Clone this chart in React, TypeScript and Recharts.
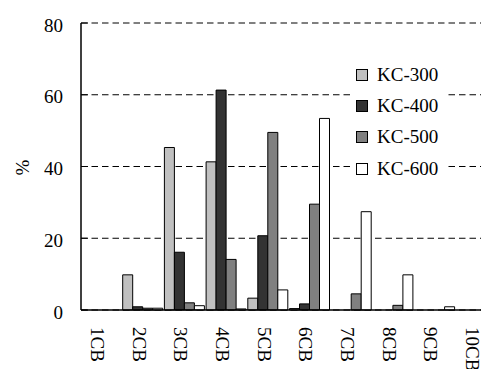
import React from 'react';
import { BarChart, Bar, XAxis, YAxis, CartesianGrid } from 'recharts';

const categories = ['1CB', '2CB', '3CB', '4CB', '5CB', '6CB', '7CB', '8CB', '9CB', '10CB'];
const kc300 = [0, 9.8, 45.3, 41.3, 3.3, 0.4, 0, 0, 0, 0];
const kc400 = [0, 0.9, 16.1, 61.3, 20.7, 1.7, 0, 0, 0, 0];
const kc500 = [0, 0.5, 2.0, 14.1, 49.5, 29.5, 4.5, 1.3, 0, 0];
const kc600 = [0, 0.5, 1.2, 0.3, 5.6, 53.4, 27.4, 9.8, 0.9, 0];
const yTicks = [0, 20, 40, 60, 80];

const seriesNames = ['KC-300', 'KC-400', 'KC-500', 'KC-600'];
const seriesKeys = ['kc300', 'kc400', 'kc500', 'kc600'];
const seriesColors = ['#c0c0c0', '#333333', '#808080', '#ffffff'];

const data = categories.map((c, i) => ({
  name: c,
  kc300: kc300[i],
  kc400: kc400[i],
  kc500: kc500[i],
  kc600: kc600[i],
}));

const FONT = '"Liberation Serif", "Times New Roman", serif';

const XTick = (props: any) => {
  const { x, y, payload } = props;
  return (
    <g transform={`translate(${x},${y + 9}) rotate(90)`}>
      <text x={0} y={0} dy={11} textAnchor="start" fontFamily={FONT} fontSize={19} fill="#000">
        {payload.value}
      </text>
    </g>
  );
};

const LegendBox = () => (
  <div
    style={{
      position: 'absolute',
      left: 342,
      top: 51,
      padding: '0 0 0 6px',
      width: 92,
      background: '#fff',
      fontFamily: FONT,
      fontSize: 19,
      color: '#000',
    }}
  >
    {seriesNames.map((n, i) => (
      <div key={n} style={{ display: 'flex', alignItems: 'center', height: 31.4 }}>
        <div
          style={{
            width: 10,
            height: 10,
            background: seriesColors[i],
            border: '1px solid #000',
            marginRight: 9,
            flex: 'none',
          }}
        />
        <span style={{ whiteSpace: 'nowrap' }}>{n}</span>
      </div>
    ))}
  </div>
);

const YLabel = (props: any) => {
  const { viewBox } = props;
  const cx = viewBox.x + 14;
  const cy = viewBox.y + viewBox.height / 2 + 1;
  return (
    <text
      x={cx}
      y={cy}
      transform={`rotate(-90, ${cx}, ${cy})`}
      textAnchor="middle"
      dominantBaseline="central"
      fontFamily={FONT}
      fontSize={19}
      fill="#000"
    >
      %
    </text>
  );
};

export default function App() {
  return (
    <div style={{ position: 'relative', width: 481, height: 361, overflow: 'hidden', background: '#fff' }}>
      <BarChart
        width={530}
        height={361}
        data={data}
        margin={{ top: 15, right: 40, bottom: 0, left: 0 }}
        barCategoryGap={0}
        barGap={0}
      >
        <CartesianGrid vertical={false} stroke="#000" strokeDasharray="6.5 4" />
        <XAxis
          dataKey="name"
          tickLine={false}
          axisLine={{ stroke: '#000', strokeWidth: 1.5 }}
          tick={<XTick />}
          height={59}
          interval={0}
        />
        <YAxis
          domain={[0, 80]}
          ticks={yTicks}
          width={73}
          tickSize={-7}
          tickMargin={25}
          axisLine={{ stroke: '#000', strokeWidth: 1.5 }}
          tickLine={{ stroke: '#000' }}
          tick={{ fontFamily: FONT, fontSize: 19, fill: '#000', dy: 2 }}
          label={<YLabel />}
        />
        {seriesKeys.map((k, i) => (
          <Bar
            key={k}
            dataKey={k}
            name={seriesNames[i]}
            fill={seriesColors[i]}
            stroke="#000"
            strokeWidth={1}
            isAnimationActive={false}
          />
        ))}
      </BarChart>
      <LegendBox />
    </div>
  );
}
